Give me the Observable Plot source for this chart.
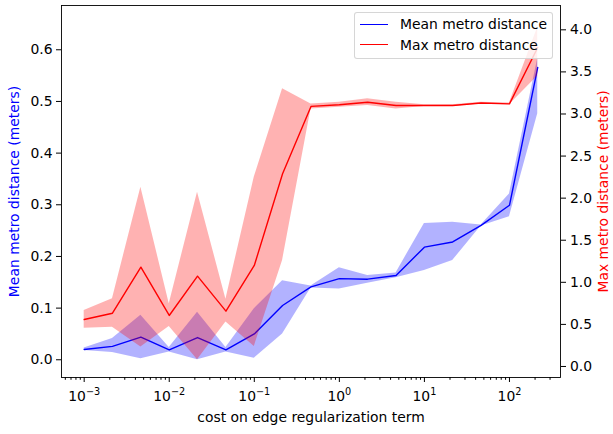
<!DOCTYPE html>
<html><head><meta charset="utf-8">
<script src="https://cdn.jsdelivr.net/npm/d3@7"></script>
<script src="https://cdn.jsdelivr.net/npm/@observablehq/plot@0.6"></script>
<style>
html,body{margin:0;padding:0;background:#fff;}
#wrap{position:relative;width:613px;height:434px;font-family:"DejaVu Sans",sans-serif;}
#legend{position:absolute;left:354px;top:12px;width:197px;height:45px;border:1px solid rgba(204,204,204,0.8);border-radius:3px;background:rgba(255,255,255,0.8);font-size:13.9px;color:#000;}
.sw{position:absolute;left:5px;width:28px;height:0;border-top:1.5px solid;}
.lt{position:absolute;left:45px;white-space:nowrap;line-height:16px;height:16px;}
</style></head>
<body><div id="wrap"></div>
<script>
// x positions (cost on edge regularization term)
const costs = [0.001, 0.00215, 0.00464, 0.01, 0.0215, 0.0464, 0.1, 0.215, 0.464, 1, 2.15, 4.64, 10, 21.5, 46.4, 100, 215];
// Mean metro distance (left axis)
const meanVals = [0.020, 0.026, 0.044, 0.019, 0.043, 0.019, 0.050, 0.105, 0.141, 0.157, 0.156, 0.163, 0.218, 0.228, 0.260, 0.299, 0.566];
const meanLo   = [0.018, 0.014, 0.002, 0.015, 0.000, 0.015, 0.003, 0.050, 0.139, 0.137, 0.148, 0.159, 0.173, 0.192, 0.259, 0.277, 0.476];
const meanHi   = [0.023, 0.041, 0.086, 0.024, 0.092, 0.024, 0.099, 0.153, 0.143, 0.178, 0.163, 0.168, 0.264, 0.266, 0.261, 0.321, 0.583];
// Max metro distance (right axis)
const maxVals = [0.558, 0.633, 1.18, 0.606, 1.073, 0.657, 1.20, 2.29, 3.09, 3.11, 3.14, 3.10, 3.10, 3.10, 3.13, 3.12, 3.79];
const maxLo   = [0.455, 0.467, 0.23, 0.475, 0.08, 0.527, 0.238, 1.26, 3.06, 3.08, 3.10, 3.06, 3.09, 3.09, 3.12, 3.11, 3.45];
const maxHi   = [0.665, 0.804, 2.13, 0.745, 2.07, 0.80, 2.25, 3.30, 3.12, 3.14, 3.18, 3.14, 3.11, 3.11, 3.14, 3.13, 4.03];
// tick labels
const xMajor = [1e-3, 1e-2, 1e-1, 1, 10, 100];
const xMajorExp = ["\u22123", "\u22122", "\u22121", "0", "1", "2"];
const leftTicks = [0, 0.1, 0.2, 0.3, 0.4, 0.5, 0.6];
const rightTicks = [0, 0.5, 1, 1.5, 2, 2.5, 3, 3.5, 4];
const leftLabel = "Mean metro distance (meters)";
const rightLabel = "Max metro distance (meters)";
const xLabel = "cost on edge regularization term";
const seriesNames = ["Mean metro distance", "Max metro distance"];

const yLeft = [-0.0343, 0.6857];
const yRight = [-0.131, 4.289];
const xDomain = [Math.pow(10, -3.2667), Math.pow(10, 2.6)];
const toL = d3.scaleLinear().domain(yRight).range(yLeft);

const data = costs.map((x, i) => ({
  x, mean: meanVals[i], mlo: meanLo[i], mhi: meanHi[i],
  max: toL(maxVals[i]), xlo: toL(maxLo[i]), xhi: toL(maxHi[i])
}));

const xMinor = [];
for (let k = -4; k <= 2; k++) for (let m = 2; m <= 9; m++) {
  const v = m * Math.pow(10, k);
  if (v >= xDomain[0] && v <= xDomain[1]) xMinor.push(v);
}

const chart = Plot.plot({
  width: 613, height: 434,
  marginLeft: 61, marginRight: 53, marginTop: 5, marginBottom: 57,
  style: {fontFamily: "DejaVu Sans, sans-serif", fontSize: "13.9px", color: "#000", background: "transparent"},
  x: {type: "log", domain: xDomain},
  y: {domain: yLeft},
  marks: [
    Plot.areaY(data, {x: "x", y1: "mlo", y2: "mhi", fill: "blue", fillOpacity: 0.3}),
    Plot.lineY(data, {x: "x", y: "mean", stroke: "blue", strokeWidth: 1.4}),
    Plot.areaY(data, {x: "x", y1: "xlo", y2: "xhi", fill: "red", fillOpacity: 0.3}),
    Plot.lineY(data, {x: "x", y: "max", stroke: "red", strokeWidth: 1.4}),
    Plot.axisX(xMajor, {tickSize: 5, tickPadding: 9, tickFormat: d => "10^" + xMajorExp[xMajor.indexOf(d)], label: null}),
    Plot.axisX(xMinor, {tickSize: 2.8, tickFormat: () => "", label: null}),
    Plot.axisY(leftTicks, {anchor: "left", tickSize: 5, tickPadding: 4, tickFormat: d => d.toFixed(1), label: null}),
    Plot.axisY(rightTicks.map(toL), {anchor: "right", tickSize: 5, tickPadding: 4.5, tickFormat: d => toL.invert(d).toFixed(1), label: null}),
    Plot.text([leftLabel], {frameAnchor: "left", textAnchor: "middle", lineAnchor: "middle", rotate: -90, dx: -47, fill: "blue", fontSize: 13.9}),
    Plot.text([rightLabel], {frameAnchor: "right", textAnchor: "middle", lineAnchor: "middle", rotate: -90, dx: 43, fill: "red", fontSize: 13.9}),
    Plot.text([xLabel], {frameAnchor: "bottom", lineAnchor: "middle", dy: 40, fill: "black", fontSize: 13.9}),
    Plot.frame({stroke: "black", strokeWidth: 0.9})
  ]
});

// render exponent as a raised, smaller tspan (like matplotlib mathtext)
const NS = "http://www.w3.org/2000/svg";
chart.querySelectorAll("text").forEach(t => {
  const s = t.textContent;
  if (/^10\^/.test(s)) {
    const exp = s.slice(3);
    t.textContent = "";
    const base = document.createElementNS(NS, "tspan");
    base.textContent = "10";
    const sup = document.createElementNS(NS, "tspan");
    sup.textContent = exp;
    sup.setAttribute("font-size", "9.7px");
    sup.setAttribute("dy", "-6");
    t.appendChild(base);
    t.appendChild(sup);
  }
});

const wrap = document.getElementById("wrap");
wrap.appendChild(chart);

const legend = document.createElement("div");
legend.id = "legend";
const colors = ["blue", "red"];
const centers = [11.3, 32];
seriesNames.forEach((name, i) => {
  const sw = document.createElement("div");
  sw.className = "sw";
  sw.style.borderTopColor = colors[i];
  sw.style.top = (centers[i] - 0.75) + "px";
  legend.appendChild(sw);
  const t = document.createElement("div");
  t.className = "lt";
  t.style.top = (centers[i] - 8) + "px";
  t.textContent = name;
  legend.appendChild(t);
});
wrap.appendChild(legend);
</script></body></html>
